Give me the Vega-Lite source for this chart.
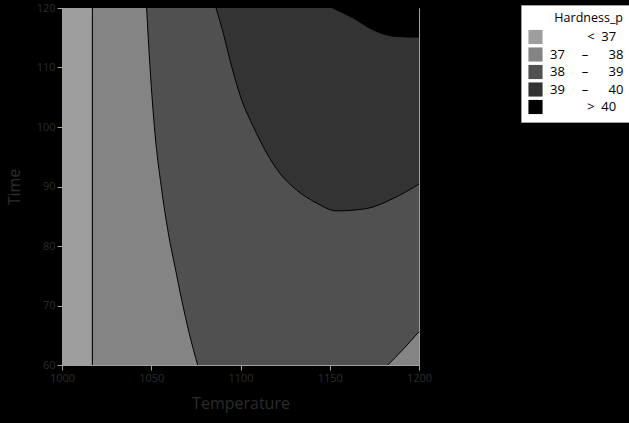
{
  "$schema": "https://vega.github.io/schema/vega-lite/v6.json",
  "width": 357,
  "height": 357,
  "autosize": "none",
  "padding": {"left": 62, "top": 8, "right": 210, "bottom": 58},
  "background": "black",
  "config": {
    "view": {"stroke": "#a0a0a0", "strokeWidth": 1},
    "font": "Open Sans",
    "axis": {
      "labelColor": "#2c2c2c", "titleColor": "#2c2c2c", "labelFont": "Open Sans", "titleFont": "Open Sans",
      "domainColor": "#a0a0a0", "tickColor": "#a0a0a0", "tickSize": 5, "grid": false,
      "labelFontSize": 11, "titleFontWeight": "normal", "labelFlush": false
    }
  },
  "datasets": {
    "bands": [
      {"level": "< 37", "temp": 1000, "temp2": 1017, "time": 60, "time2": 120},
      {"level": "37 – 38", "temp": 1017, "temp2": 1200, "time": 60, "time2": 120}
    ],
    "r38": [
      {"level": "38 – 39", "time": 120, "temp": 1047.4},
      {"level": "38 – 39", "time": 110.1, "temp": 1049.3},
      {"level": "38 – 39", "time": 98.9, "temp": 1052.1},
      {"level": "38 – 39", "time": 90.0, "temp": 1055.6},
      {"level": "38 – 39", "time": 82.1, "temp": 1059.6},
      {"level": "38 – 39", "time": 76.5, "temp": 1063.3},
      {"level": "38 – 39", "time": 70.9, "temp": 1067.1},
      {"level": "38 – 39", "time": 65.3, "temp": 1071.3},
      {"level": "38 – 39", "time": 60, "temp": 1076}
    ],
    "corner": [
      {"level": "37 – 38", "temp": 1182.5, "time": 60},
      {"level": "37 – 38", "temp": 1191, "time": 62.6},
      {"level": "37 – 38", "temp": 1200, "time": 65.6}
    ],
    "r39": [
      {"level": "39 – 40", "temp": 1086.3, "time": 120},
      {"level": "39 – 40", "temp": 1090.4, "time": 115.7},
      {"level": "39 – 40", "temp": 1095.1, "time": 110.1},
      {"level": "39 – 40", "temp": 1100.7, "time": 104.5},
      {"level": "39 – 40", "temp": 1107.2, "time": 100.05},
      {"level": "39 – 40", "temp": 1114.7, "time": 95.6},
      {"level": "39 – 40", "temp": 1122.1, "time": 92.2},
      {"level": "39 – 40", "temp": 1131.5, "time": 89.4},
      {"level": "39 – 40", "temp": 1142.7, "time": 87.2},
      {"level": "39 – 40", "temp": 1153.9, "time": 85.9},
      {"level": "39 – 40", "temp": 1170.7, "time": 86.3},
      {"level": "39 – 40", "temp": 1185.6, "time": 88.0},
      {"level": "39 – 40", "temp": 1200, "time": 90.4}
    ],
    "r40": [
      {"level": "> 40", "temp": 1151.6, "time": 120},
      {"level": "> 40", "temp": 1163.2, "time": 118.3},
      {"level": "> 40", "temp": 1174.4, "time": 116.3},
      {"level": "> 40", "temp": 1187.5, "time": 115.2},
      {"level": "> 40", "temp": 1200, "time": 115.1}
    ],
    "v37": [{"temp": 1017}]
  },
  "layer": [
    {
      "data": {"name": "bands"},
      "mark": {"type": "rect"},
      "encoding": {
        "x": {"field": "temp", "type": "quantitative", "scale": {"domain": [1000, 1200], "nice": false, "zero": false},
              "axis": {"title": "Temperature", "format": "d", "values": [1000, 1050, 1100, 1150, 1200], "titleFontSize": 16, "titlePadding": 12, "labelPadding": 2}},
        "x2": {"field": "temp2"},
        "y": {"field": "time", "type": "quantitative", "scale": {"domain": [60, 120], "nice": false, "zero": false},
              "axis": {"title": "Time", "values": [60, 70, 80, 90, 100, 110, 120], "titleFontSize": 16, "titlePadding": 14, "labelPadding": 2}},
        "y2": {"field": "time2"},
        "fill": {
          "field": "level", "type": "nominal",
          "scale": {"domain": ["< 37", "37 – 38", "38 – 39", "39 – 40", "> 40"], "range": ["#9e9e9e", "#848484", "#505050", "#333333", "#000000"]},
          "legend": {
            "orient": "none", "legendX": 459, "legendY": -3,
            "title": "Hardness_p", "titleFontSize": 12.5, "titleFontWeight": "normal", "titleColor": "black", "titleFont": "Open Sans",
            "titleAnchor": "end", "titlePadding": 5,
            "fillColor": "white", "strokeColor": "#a0a0a0", "padding": 7,
            "labelFontSize": 13, "labelColor": "black", "labelFont": "Open Sans", "labelOffset": 7,
            "symbolType": "square", "symbolSize": 200, "symbolStrokeWidth": 0, "rowPadding": 2.5,
            "labelExpr": "datum.label == '< 37' ? '\u200b\u00a0\u00a0\u00a0\u00a0\u00a0\u00a0\u00a0\u00a0\u00a0\u00a0\u00a0<\u00a0\u00a037' : datum.label == '> 40' ? '\u200b\u00a0\u00a0\u00a0\u00a0\u00a0\u00a0\u00a0\u00a0\u00a0\u00a0\u00a0>\u00a0\u00a040' : replace(datum.label, ' – ', '\u00a0\u00a0\u00a0\u00a0\u00a0–\u00a0\u00a0\u00a0\u00a0\u00a0\u00a0')"
          }
        }
      }
    },
    {
      "data": {"name": "r38"},
      "mark": {"type": "area", "orient": "horizontal", "interpolate": "monotone"},
      "encoding": {
        "y": {"field": "time", "type": "quantitative"},
        "x": {"field": "temp", "type": "quantitative"},
        "x2": {"datum": 1200},
        "fill": {"field": "level", "type": "nominal"}
      }
    },
    {
      "data": {"name": "corner"},
      "mark": {"type": "area", "orient": "vertical", "interpolate": "monotone"},
      "encoding": {
        "x": {"field": "temp", "type": "quantitative"},
        "y": {"field": "time", "type": "quantitative"},
        "y2": {"datum": 60},
        "fill": {"field": "level", "type": "nominal"}
      }
    },
    {
      "data": {"name": "r39"},
      "mark": {"type": "area", "orient": "vertical", "interpolate": "monotone"},
      "encoding": {
        "x": {"field": "temp", "type": "quantitative"},
        "y": {"field": "time", "type": "quantitative"},
        "y2": {"datum": 120},
        "fill": {"field": "level", "type": "nominal"}
      }
    },
    {
      "data": {"name": "r40"},
      "mark": {"type": "area", "orient": "vertical", "interpolate": "monotone"},
      "encoding": {
        "x": {"field": "temp", "type": "quantitative"},
        "y": {"field": "time", "type": "quantitative"},
        "y2": {"datum": 120},
        "fill": {"field": "level", "type": "nominal"}
      }
    },
    {
      "data": {"name": "r38"},
      "mark": {"type": "line", "color": "black", "strokeWidth": 1, "interpolate": "monotone"},
      "encoding": {
        "x": {"field": "temp", "type": "quantitative"},
        "y": {"field": "time", "type": "quantitative"}
      }
    },
    {
      "data": {"name": "corner"},
      "mark": {"type": "line", "color": "black", "strokeWidth": 1, "interpolate": "monotone"},
      "encoding": {
        "x": {"field": "temp", "type": "quantitative"},
        "y": {"field": "time", "type": "quantitative"}
      }
    },
    {
      "data": {"name": "r39"},
      "mark": {"type": "line", "color": "black", "strokeWidth": 1, "interpolate": "monotone"},
      "encoding": {
        "x": {"field": "temp", "type": "quantitative"},
        "y": {"field": "time", "type": "quantitative"}
      }
    },
    {
      "data": {"name": "r40"},
      "mark": {"type": "line", "color": "black", "strokeWidth": 1, "interpolate": "monotone"},
      "encoding": {
        "x": {"field": "temp", "type": "quantitative"},
        "y": {"field": "time", "type": "quantitative"}
      }
    },
    {
      "data": {"name": "v37"},
      "mark": {"type": "rule", "color": "black", "strokeWidth": 1},
      "encoding": {
        "x": {"field": "temp", "type": "quantitative"}
      }
    }
  ]
}
